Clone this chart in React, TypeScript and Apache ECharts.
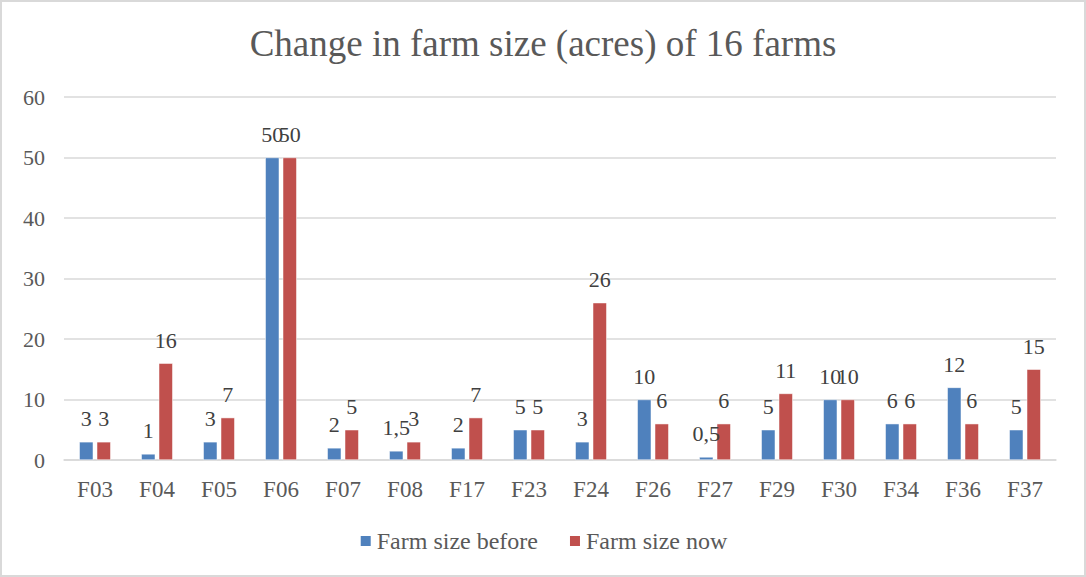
import React, { useEffect, useRef } from "react";
import * as echarts from "echarts";

const categories = ["F03", "F04", "F05", "F06", "F07", "F08", "F17", "F23", "F24", "F26", "F27", "F29", "F30", "F34", "F36", "F37"];
const sizeBefore = [3, 1, 3, 50, 2, 1.5, 2, 5, 3, 10, 0.5, 5, 10, 6, 12, 5];
const sizeNow = [3, 16, 7, 50, 5, 3, 7, 5, 26, 6, 6, 11, 10, 6, 6, 15];
const yTicks = { min: 0, max: 60, interval: 10 };

const FONT = "Liberation Serif, Times New Roman, serif";

export default function App() {
  const ref = useRef<HTMLDivElement>(null);
  useEffect(() => {
    document.body.style.margin = "0";
    const chart = echarts.init(ref.current!, undefined, { renderer: "svg" });
    const label = {
      show: true,
      position: "top" as const,
      distance: 12,
      color: "#404040",
      fontFamily: FONT,
      fontSize: 22,
      formatter: (p: any) => String(p.value).replace(".", ","),
    };
    chart.setOption({
      animation: false,
      backgroundColor: "#ffffff",
      textStyle: { fontFamily: FONT },
      title: {
        text: "Change in farm size (acres) of 16 farms",
        left: "center",
        top: 18,
        textStyle: { fontFamily: FONT, fontSize: 37, fontWeight: "normal", color: "#595959" },
      },
      legend: {
        bottom: 17,
        left: "center",
        itemWidth: 12,
        itemHeight: 12,
        itemGap: 30,
        icon: "rect",
        textStyle: { fontFamily: FONT, fontSize: 24, color: "#595959" },
        data: ["Farm size before", "Farm size now"],
      },
      grid: { left: 62, right: 28, top: 95, bottom: 115, containLabel: false },
      xAxis: {
        type: "category",
        data: categories,
        axisLine: { lineStyle: { color: "#d9d9d9", width: 1.5 } },
        axisTick: { show: false },
        axisLabel: { fontFamily: FONT, fontSize: 23, color: "#595959", margin: 18 },
      },
      yAxis: {
        type: "value",
        min: yTicks.min,
        max: yTicks.max,
        interval: yTicks.interval,
        axisLine: { show: false },
        axisTick: { show: false },
        splitLine: { lineStyle: { color: "#d9d9d9", width: 1.5 } },
        axisLabel: { fontFamily: FONT, fontSize: 22, color: "#595959", margin: 19 },
      },
      series: [
        {
          name: "Farm size before",
          type: "bar",
          data: sizeBefore,
          barWidth: 14,
          barGap: "25%",
          itemStyle: { color: "#4f81bd", borderColor: "#ffffff", borderWidth: 0.5 },
          label,
        },
        {
          name: "Farm size now",
          type: "bar",
          data: sizeNow,
          barWidth: 14,
          itemStyle: { color: "#c0504d", borderColor: "#ffffff", borderWidth: 0.5 },
          label,
        },
      ],
    });
    return () => chart.dispose();
  }, []);
  return (
    <div style={{ width: 1086, height: 577, boxSizing: "border-box", border: "2px solid #d9d9d9", background: "#fff" }}>
      <div ref={ref} style={{ width: 1082, height: 573 }} />
    </div>
  );
}
